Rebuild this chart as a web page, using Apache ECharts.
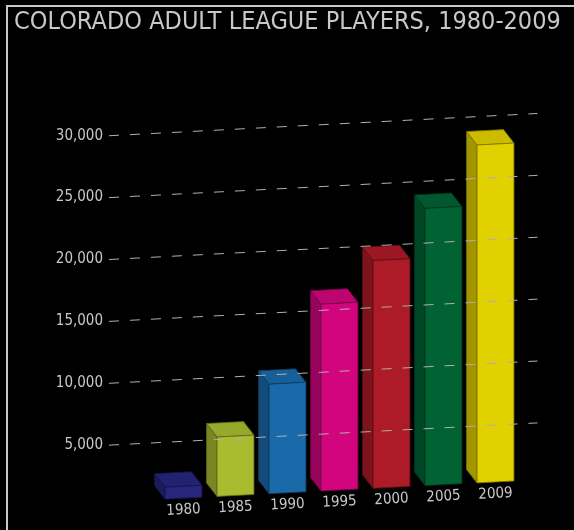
<!DOCTYPE html>
<html>
<head>
<meta charset="utf-8">
<script src="https://cdn.jsdelivr.net/npm/echarts@6/dist/echarts.min.js"></script>
<style>
html,body{margin:0;padding:0;background:#000;overflow:hidden;}
#chart{width:574px;height:530px;}
</style>
</head>
<body>
<div id="chart"></div>
<script>
// ---- data ----
const titleText = 'COLORADO ADULT LEAGUE PLAYERS, 1980-2009';
const years = ['1980', '1985', '1990', '1995', '2000', '2005', '2009'];
const players = [970, 4800, 8850, 15100, 18400, 22400, 27300];
const gridTicks = [5000, 10000, 15000, 20000, 25000, 30000];
const barColors = ['#26267f', '#a8bc30', '#1a6aaa', '#d2057f', '#ad1a28', '#016233', '#e1d100'];

// ---- layout / style constants ----
const FONT = "'DejaVu Sans Condensed', 'DejaVu Sans', sans-serif";
const TEXT_COLOR = '#c8c8c8';
const GRID_LEFT = 157.5, GRID_WIDTH = 364, Y_OFFSET = 47.5;
const X0 = GRID_LEFT - Y_OFFSET;   // y-axis position
const K = 0.052;                   // shear slope
const LIFT = 5;                    // bars sit slightly above floor line
const DX = -10.5, DY = -13.5;      // depth offset
const FACE_RATIO = 0.71;

function shade(hex, f) {
  const n = parseInt(hex.slice(1), 16);
  const r = Math.round(((n >> 16) & 255) * f);
  const g = Math.round(((n >> 8) & 255) * f);
  const b = Math.round((n & 255) * f);
  return 'rgb(' + r + ',' + g + ',' + b + ')';
}
function sy(x) { return -K * (x - X0); }

const chart = echarts.init(document.getElementById('chart'), null, {renderer: 'canvas'});

const option = {
  backgroundColor: '#000',
  animation: false,
  graphic: [
    {type: 'text', z: 100, x: 14, y: 10, scaleX: 0.9,
     style: {text: titleText, fill: TEXT_COLOR, font: "normal 25px 'DejaVu Sans', sans-serif",
             align: 'left', verticalAlign: 'top'}},
    {type: 'polyline', z: 100, shape: {points: [[7, 530], [7, 6], [574, 6]]},
     style: {stroke: '#c8c8cc', lineWidth: 2, fill: null}}
  ],
  grid: {left: GRID_LEFT, width: GRID_WIDTH, top: 135.7, bottom: 23},
  xAxis: {
    type: 'category', data: years, show: false
  },
  yAxis: {
    type: 'value', min: 0, max: 30000, interval: 5000, offset: Y_OFFSET,
    axisLine: {show: false}, axisTick: {show: false}, splitLine: {show: false},
    axisLabel: {
      showMinLabel: false, margin: 7, color: TEXT_COLOR, fontFamily: FONT, fontSize: 15,
      formatter: v => v.toLocaleString('en-US')
    }
  },
  series: [
    {
      type: 'custom', z: 2,
      data: players.map((v, i) => [i, v]),
      renderItem: function (params, api) {
        const i = api.value(0), v = api.value(1);
        const c0 = api.coord([i, 0]);
        const c1 = api.coord([i, v]);
        const bw = api.size([1, 0])[0];
        const fw = bw * FACE_RATIO;
        const xl = c0[0] - fw / 2, xr = c0[0] + fw / 2;
        const tyl = c1[1] + sy(xl) - LIFT, tyr = c1[1] + sy(xr) - LIFT;
        const byl = c0[1] + sy(xl) - LIFT, byr = c0[1] + sy(xr) - LIFT;
        const col = barColors[params.dataIndex];
        const edge = shade(col, 0.55);
        const cx = c0[0];
        return {
          type: 'group',
          children: [
            {type: 'polygon', shape: {points: [[xl + DX, tyl + DY], [xl, tyl], [xl, byl], [xl + DX, byl + DY]]},
             style: {fill: shade(col, 0.72), stroke: edge, lineWidth: 0.8}},
            {type: 'polygon', shape: {points: [[xl, tyl], [xr, tyr], [xr + DX, tyr + DY], [xl + DX, tyl + DY]]},
             style: {fill: shade(col, 0.9), stroke: edge, lineWidth: 0.8}},
            {type: 'polygon', shape: {points: [[xl, tyl], [xr, tyr], [xr, byr], [xl, byl]]},
             style: {fill: col, stroke: edge, lineWidth: 0.8}},
            {type: 'text', x: cx, y: c0[1] + sy(cx) - LIFT + 12, rotation: Math.atan(K),
             style: {text: years[params.dataIndex], fill: TEXT_COLOR, font: '15px ' + FONT,
                     align: 'center', verticalAlign: 'middle'}}
          ]
        };
      }
    },
    {
      type: 'custom', z: 5, silent: true,
      data: gridTicks.map(v => [0, v]),
      renderItem: function (params, api) {
        const c = api.coord([0, api.value(1)]);
        const x1 = X0 - 1;
        const x2 = params.coordSys.x + params.coordSys.width + 16;
        return {
          type: 'line',
          shape: {x1: x1, y1: c[1] + sy(x1), x2: x2, y2: c[1] + sy(x2)},
          style: {stroke: '#b0b0b0', lineWidth: 1, lineDash: [10, 11]}
        };
      }
    }
  ]
};
chart.setOption(option);
</script>
</body>
</html>
